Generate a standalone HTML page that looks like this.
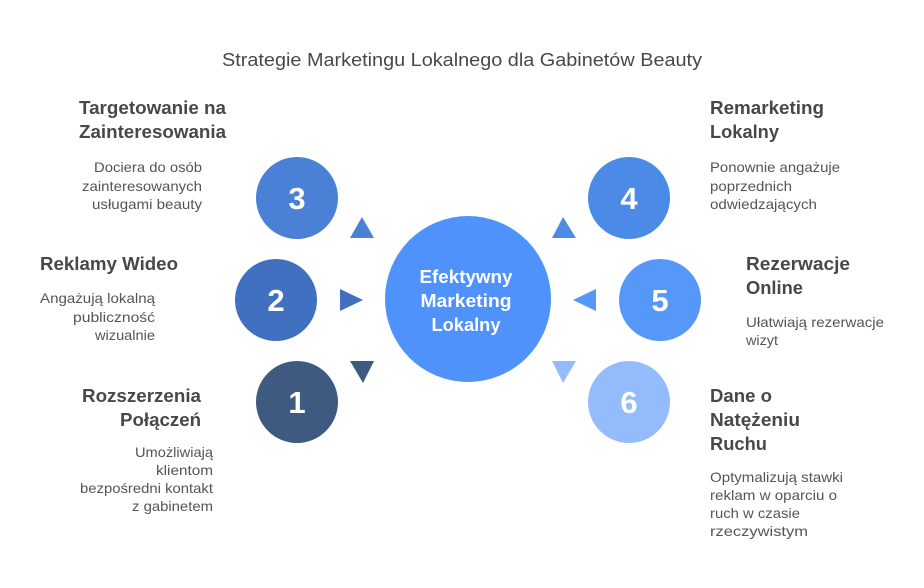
<!DOCTYPE html>
<html><head><meta charset="utf-8"><style>
html,body{margin:0;padding:0;background:#fff;}
svg{display:block;}
text{font-family:"Liberation Sans",Arial,sans-serif;}
.t{font-weight:bold;font-size:18px;fill:#484848;}
.d{font-size:14px;fill:#555;}
.n{font-weight:bold;font-size:31px;fill:#fff;}
.c{font-weight:bold;font-size:18px;fill:#fff;}
</style></head><body>
<svg width="924" height="588" viewBox="0 0 924 588" xmlns="http://www.w3.org/2000/svg">
<rect width="924" height="588" fill="#fff"/>
<text x="462" y="66" text-anchor="middle" font-size="18" fill="#484848" textLength="480" lengthAdjust="spacingAndGlyphs">Strategie Marketingu Lokalnego dla Gabinetów Beauty</text>

<!-- circles -->
<circle cx="468" cy="299" r="83" fill="#4f92fb"/>
<circle cx="297" cy="198" r="41" fill="#4a80d6"/>
<circle cx="276" cy="300" r="41" fill="#4170c0"/>
<circle cx="297" cy="402" r="41" fill="#3e5a80"/>
<circle cx="629" cy="198" r="41" fill="#4c8ae8"/>
<circle cx="660" cy="300" r="41" fill="#5598f8"/>
<circle cx="629" cy="402" r="41" fill="#94bcfc"/>

<!-- triangles -->
<polygon points="362,217 350,238 374,238" fill="#4a80d6"/>
<polygon points="340,289 340,311 363,300" fill="#4170c0"/>
<polygon points="350,361 374,361 363,383" fill="#3e5a80"/>
<polygon points="563,217 552,238 576,238" fill="#4c8ae8"/>
<polygon points="573,300 596,289 596,311" fill="#5598f8"/>
<polygon points="552,361 576,361 563,383" fill="#94bcfc"/>

<!-- numbers -->
<text class="n" x="297" y="209" text-anchor="middle">3</text>
<text class="n" x="276" y="311" text-anchor="middle">2</text>
<text class="n" x="297" y="413" text-anchor="middle">1</text>
<text class="n" x="629" y="209" text-anchor="middle">4</text>
<text class="n" x="660" y="311" text-anchor="middle">5</text>
<text class="n" x="629" y="413" text-anchor="middle">6</text>

<!-- center -->
<text class="c" x="466" y="283" text-anchor="middle" textLength="93" lengthAdjust="spacingAndGlyphs">Efektywny</text>
<text class="c" x="466" y="307" text-anchor="middle" textLength="91" lengthAdjust="spacingAndGlyphs">Marketing</text>
<text class="c" x="466" y="331" text-anchor="middle" textLength="69" lengthAdjust="spacingAndGlyphs">Lokalny</text>

<!-- left 3 -->
<text class="t" x="226" y="114" text-anchor="end" textLength="147" lengthAdjust="spacingAndGlyphs">Targetowanie na</text>
<text class="t" x="226" y="138" text-anchor="end" textLength="147" lengthAdjust="spacingAndGlyphs">Zainteresowania</text>
<text class="d" x="202" y="172" text-anchor="end" textLength="108" lengthAdjust="spacingAndGlyphs">Dociera do osób</text>
<text class="d" x="202" y="191" text-anchor="end" textLength="120" lengthAdjust="spacingAndGlyphs">zainteresowanych</text>
<text class="d" x="202" y="209" text-anchor="end" textLength="110" lengthAdjust="spacingAndGlyphs">usługami beauty</text>

<!-- left 2 -->
<text class="t" x="178" y="270" text-anchor="end" textLength="138" lengthAdjust="spacingAndGlyphs">Reklamy Wideo</text>
<text class="d" x="155" y="303" text-anchor="end" textLength="115" lengthAdjust="spacingAndGlyphs">Angażują lokalną</text>
<text class="d" x="155" y="322" text-anchor="end" textLength="82" lengthAdjust="spacingAndGlyphs">publiczność</text>
<text class="d" x="155" y="340" text-anchor="end" textLength="60" lengthAdjust="spacingAndGlyphs">wizualnie</text>

<!-- left 1 -->
<text class="t" x="201" y="402" text-anchor="end" textLength="119" lengthAdjust="spacingAndGlyphs">Rozszerzenia</text>
<text class="t" x="201" y="426" text-anchor="end" textLength="81" lengthAdjust="spacingAndGlyphs">Połączeń</text>
<text class="d" x="213" y="457" text-anchor="end" textLength="78" lengthAdjust="spacingAndGlyphs">Umożliwiają</text>
<text class="d" x="213" y="475" text-anchor="end" textLength="57" lengthAdjust="spacingAndGlyphs">klientom</text>
<text class="d" x="213" y="493" text-anchor="end" textLength="133" lengthAdjust="spacingAndGlyphs">bezpośredni kontakt</text>
<text class="d" x="213" y="511" text-anchor="end" textLength="81" lengthAdjust="spacingAndGlyphs">z gabinetem</text>

<!-- right 4 -->
<text class="t" x="710" y="114" textLength="114" lengthAdjust="spacingAndGlyphs">Remarketing</text>
<text class="t" x="710" y="138" textLength="69" lengthAdjust="spacingAndGlyphs">Lokalny</text>
<text class="d" x="710" y="172" textLength="130" lengthAdjust="spacingAndGlyphs">Ponownie angażuje</text>
<text class="d" x="710" y="191" textLength="82" lengthAdjust="spacingAndGlyphs">poprzednich</text>
<text class="d" x="710" y="209" textLength="107" lengthAdjust="spacingAndGlyphs">odwiedzających</text>

<!-- right 5 -->
<text class="t" x="746" y="270" textLength="104" lengthAdjust="spacingAndGlyphs">Rezerwacje</text>
<text class="t" x="746" y="294" textLength="57" lengthAdjust="spacingAndGlyphs">Online</text>
<text class="d" x="746" y="327" textLength="138" lengthAdjust="spacingAndGlyphs">Ułatwiają rezerwacje</text>
<text class="d" x="746" y="345" textLength="32" lengthAdjust="spacingAndGlyphs">wizyt</text>

<!-- right 6 -->
<text class="t" x="710" y="402" textLength="62" lengthAdjust="spacingAndGlyphs">Dane o</text>
<text class="t" x="710" y="426" textLength="90" lengthAdjust="spacingAndGlyphs">Natężeniu</text>
<text class="t" x="710" y="450" textLength="57" lengthAdjust="spacingAndGlyphs">Ruchu</text>
<text class="d" x="710" y="482" textLength="133" lengthAdjust="spacingAndGlyphs">Optymalizują stawki</text>
<text class="d" x="710" y="500" textLength="127" lengthAdjust="spacingAndGlyphs">reklam w oparciu o</text>
<text class="d" x="710" y="518" textLength="90" lengthAdjust="spacingAndGlyphs">ruch w czasie</text>
<text class="d" x="710" y="536" textLength="98" lengthAdjust="spacingAndGlyphs">rzeczywistym</text>
</svg>
</body></html>
